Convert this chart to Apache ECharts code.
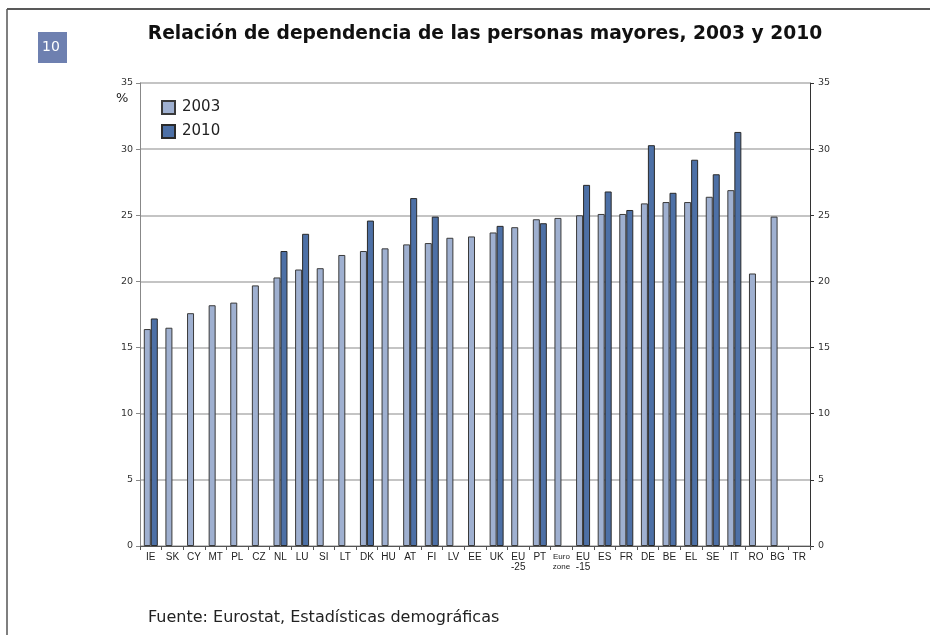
<!DOCTYPE html>
<html>
<head>
<meta charset="utf-8">
<script src="https://cdn.jsdelivr.net/npm/echarts@6/dist/echarts.min.js"></script>
<style>
  html, body { margin: 0; padding: 0; background: #fff; }
  #chart { width: 930px; height: 635px; }
</style>
</head>
<body>
<div id="chart"></div>
<script>
var countries = ['IE', 'SK', 'CY', 'MT', 'PL', 'CZ', 'NL', 'LU', 'SI', 'LT', 'DK', 'HU', 'AT', 'FI', 'LV',
  'EE', 'UK', 'EU\n-25', 'PT', 'Euro\nzone', 'EU\n-15', 'ES', 'FR', 'DE', 'BE', 'EL', 'SE', 'IT', 'RO', 'BG', 'TR'];
var values2003 = [16.4, 16.5, 17.6, 18.2, 18.4, 19.7, 20.3, 20.9, 21.0, 22.0, 22.3, 22.5, 22.8, 22.9, 23.3,
  23.4, 23.7, 24.1, 24.7, 24.8, 25.0, 25.1, 25.1, 25.9, 26.0, 26.0, 26.4, 26.9, 20.6, 24.9, null];
var values2010 = [17.2, null, null, null, null, null, 22.3, 23.6, null, null, 24.6, null, 26.3, 24.9, null,
  null, 24.2, null, 24.4, null, 27.3, 26.8, 25.4, 30.3, 26.7, 29.2, 28.1, 31.3, null, null, null];

var chart = echarts.init(document.getElementById('chart'));

chart.setOption({
  animation: false,
  backgroundColor: '#fff',
  textStyle: { fontFamily: 'DejaVu Sans' },
  title: {
    text: 'Relación de dependencia de las personas mayores, 2003 y 2010',
    left: 480,
    textAlign: 'center',
    top: 20,
    textStyle: { fontSize: 18.7, fontWeight: 'bold', color: '#111', fontFamily: 'DejaVu Sans' }
  },
  legend: {
    orient: 'vertical',
    left: 156,
    top: 95,
    itemWidth: 13,
    itemHeight: 13,
    itemGap: 9,
    icon: 'rect',
    data: ['2003', '2010'],
    textStyle: { fontSize: 15, color: '#222', padding: [0, 0, 0, 2] }
  },
  grid: { left: 140, right: 120, top: 83, bottom: 89 },
  xAxis: {
    type: 'category',
    data: countries,
    axisLine: { lineStyle: { color: '#555', width: 1 } },
    axisTick: { show: true, interval: 0, length: 4, lineStyle: { color: '#555' } },
    axisLabel: {
      interval: 0,
      fontSize: 10,
      color: '#222',
      fontFamily: 'Liberation Sans',
      lineHeight: 10,
      margin: 6,
      formatter: function (v) {
        if (v === 'Euro\nzone') return '{s|Euro}\n{s|zone}';
        return v;
      },
      rich: { s: { fontSize: 8, lineHeight: 10, fontFamily: 'Liberation Sans', color: '#222' } }
    }
  },
  yAxis: [{
    type: 'value',
    min: 0, max: 35, interval: 5,
    axisLine: { show: true, lineStyle: { color: '#888', width: 1 } },
    axisTick: { show: true, length: 4, lineStyle: { color: '#888' } },
    axisLabel: { fontSize: 9.5, color: '#333', margin: 7 },
    splitLine: { lineStyle: { color: '#b0b0b0', width: 1.5 } }
  }, {
    type: 'value',
    position: 'right',
    min: 0, max: 35, interval: 5,
    axisLine: { show: true, lineStyle: { color: '#333', width: 1 } },
    axisTick: { show: true, length: 4, lineStyle: { color: '#333' } },
    axisLabel: { fontSize: 9.5, color: '#333', margin: 8 },
    splitLine: { show: false }
  }],
  series: [{
    name: '2003',
    type: 'bar',
    data: values2003,
    barWidth: 7,
    barGap: '0%',
    itemStyle: { color: '#9fb0d0', borderColor: '#3a3a3a', borderWidth: 1 }
  }, {
    name: '2010',
    type: 'bar',
    data: values2010,
    barWidth: 7,
    barGap: '0%',
    itemStyle: { color: '#4d70a6', borderColor: '#2a2a2a', borderWidth: 1 }
  }],
  graphic: [
    { type: 'line', shape: { x1: 7, y1: 9, x2: 930, y2: 9 }, style: { stroke: '#222', lineWidth: 1.5 } },
    { type: 'line', shape: { x1: 7, y1: 9, x2: 7, y2: 635 }, style: { stroke: '#555', lineWidth: 1.5 } },
    { type: 'rect', shape: { x: 38, y: 32, width: 29, height: 31 }, style: { fill: '#6e80b0' } },
    { type: 'text', left: 42, top: 40, style: { text: '10', fill: '#fff', font: '14px "DejaVu Sans"' } },
    { type: 'text', left: 116, top: 92, style: { text: '%', fill: '#222', font: '13px "DejaVu Sans"' } },
    { type: 'text', left: 148, top: 610, style: { text: 'Fuente: Eurostat, Estadísticas demográficas', fill: '#222', font: '16px "DejaVu Sans"' } }
  ]
});
</script>
</body>
</html>
